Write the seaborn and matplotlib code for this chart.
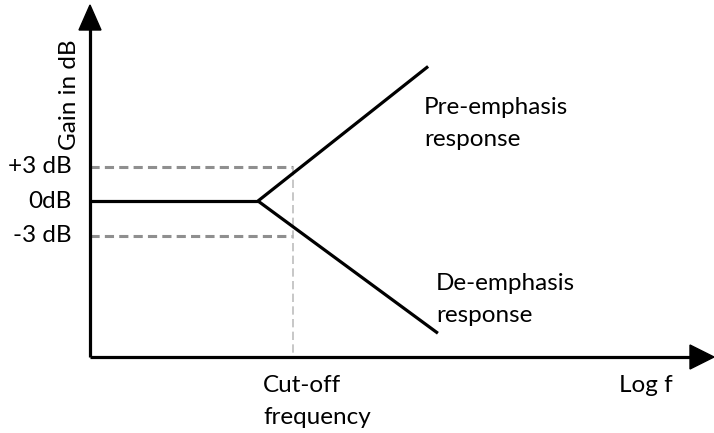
import matplotlib
matplotlib.use("Agg")
import matplotlib.pyplot as plt
import seaborn as sns
import pandas as pd
from matplotlib.patches import Polygon

# Data (x in log-frequency units, y in dB)
flat_x = [0.0, 4.8]
flat_y = [0.0, 0.0]
pre_x = [4.8, 9.66]
pre_y = [0.0, 11.7]
de_x = [4.8, 9.94]
de_y = [0.0, -11.5]
cutoff_x = 5.8
ref_levels = [3.0, -3.0]
level_labels = ["+3 dB", "0dB", "-3 dB"]
level_values = [3.0, 0.0, -3.0]

sns.set_style("white")
plt.rcParams['font.family'] = ['Lato', 'DejaVu Sans']
plt.rcParams['text.color'] = 'black'

fig = plt.figure(figsize=(7.14, 4.33), dpi=100)
ax = fig.add_axes([0, 0, 1, 1])

# pixel mapping helpers: px = 90 + 35*x ; py = 201 - 11.5*y
def X(px):
    return (px - 90) / 35.0
def Y(py):
    return (201 - py) / 11.5

ax.set_xlim(X(0), X(714))
ax.set_ylim(Y(433), Y(0))
ax.axis("off")

lw = 2.3
df = pd.concat([
    pd.DataFrame({"x": flat_x, "y": flat_y, "s": "flat"}),
    pd.DataFrame({"x": pre_x, "y": pre_y, "s": "pre"}),
    pd.DataFrame({"x": de_x, "y": de_y, "s": "de"}),
])
sns.lineplot(data=df, x="x", y="y", units="s", estimator=None, color="black",
             lw=lw, ax=ax, sort=False, legend=False, solid_capstyle="butt")

# dashed reference lines
for lv in ref_levels:
    ax.plot([0, cutoff_x], [lv, lv], color="#8f8f8f", lw=2.2, ls=(0, (3.0, 1.7)),
            zorder=1, dash_capstyle="butt")
ax.plot([cutoff_x, cutoff_x], [max(ref_levels), Y(357)], color="#bdbdbd", lw=1.2,
        ls=(0, (5, 2.6)), zorder=1)

# axes
ax.plot([0, 0], [Y(357), Y(28)], color="black", lw=lw, solid_capstyle="butt")
ax.plot([0, X(692)], [Y(357), Y(357)], color="black", lw=lw, solid_capstyle="butt")
ax.add_patch(Polygon([[X(79), Y(30)], [X(101), Y(30)], [X(90), Y(5)]], closed=True,
                     color="black"))
ax.add_patch(Polygon([[X(690), Y(345)], [X(690), Y(369)], [X(714), Y(357)]], closed=True,
                     color="black"))

fs = 17.5
ax.text(X(69), Y(95), "Gain in dB", rotation=90, ha="center", va="center", fontsize=fs)
for lab, v in zip(level_labels, level_values):
    ax.text(X(72), v, lab, ha="right", va="center", fontsize=fs)

ax.text(X(424), Y(108), "Pre-emphasis", ha="left", va="center", fontsize=fs)
ax.text(X(424), Y(140), "response", ha="left", va="center", fontsize=fs)
ax.text(X(436), Y(283), "De-emphasis", ha="left", va="center", fontsize=fs)
ax.text(X(436), Y(316), "response", ha="left", va="center", fontsize=fs)
ax.text(X(263), Y(386), "Cut-off", ha="left", va="center", fontsize=fs)
ax.text(X(263), Y(418), "frequency", ha="left", va="center", fontsize=fs)
ax.text(X(619), Y(386), "Log f", ha="left", va="center", fontsize=fs)

fig.savefig("out.png", dpi=100, facecolor="white")
